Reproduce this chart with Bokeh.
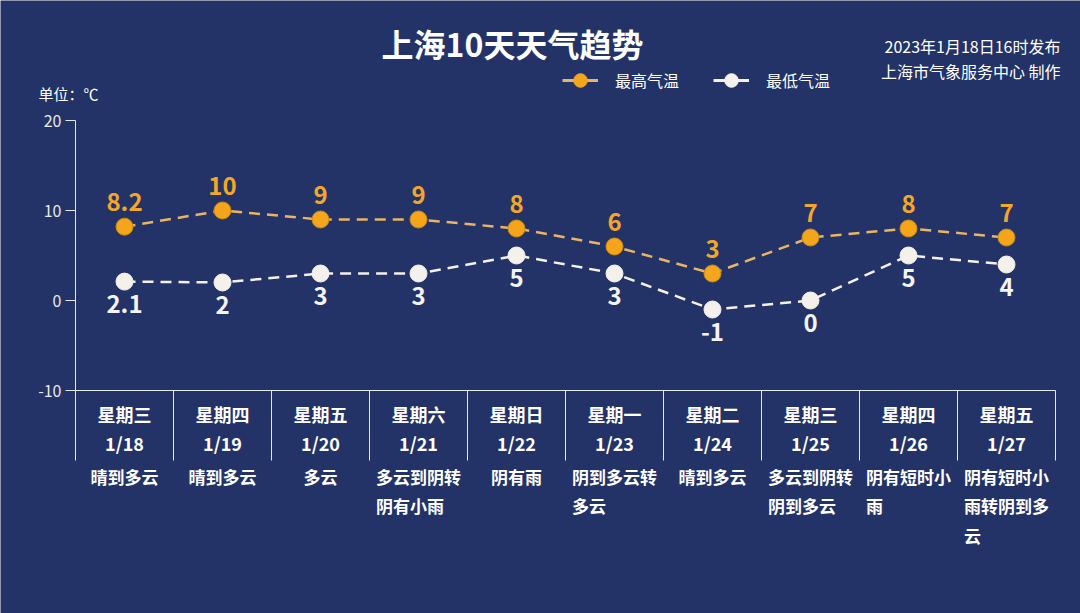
import math
from bokeh.plotting import figure
from bokeh.models import Range1d, FixedTicker, Label, Legend, LegendItem, ColumnDataSource
from bokeh.core.properties import value
from bokeh.embed import file_html
from bokeh.resources import INLINE

# ---- data ----
weekdays = ["星期三", "星期四", "星期五", "星期六", "星期日", "星期一", "星期二", "星期三", "星期四", "星期五"]
dates = ["1/18", "1/19", "1/20", "1/21", "1/22", "1/23", "1/24", "1/25", "1/26", "1/27"]
weather = ["晴到多云", "晴到多云", "多云", "多云到阴转\n阴有小雨", "阴有雨", "阴到多云转\n多云",
           "晴到多云", "多云到阴转\n阴到多云", "阴有短时小\n雨", "阴有短时小\n雨转阴到多\n云"]
high = [8.2, 10, 9, 9, 8, 6, 3, 7, 8, 7]
low = [2.1, 2, 3, 3, 5, 3, -1, 0, 5, 4]
y_ticks = [-10, 0, 10, 20]

title_text = "上海10天天气趋势"
pub_text = "2023年1月18日16时发布"
org_text = "上海市气象服务中心 制作"
unit_text = "单位：℃"
series_names = ["最高气温", "最低气温"]

# ---- style ----
W, H = 1080, 613
BG = "#233367"
FONT = "Noto Sans CJK SC"
ORANGE = "#f5a51c"
ORANGE_LINE = "#e9b463"
WHITE = "#f4f0ec"
LEFT = 75
CELL = 98
PX_PER_UNIT = 9
TOP_PX = 120

n = len(dates)
xs = list(range(n))
ymax = max(y_ticks)
ymin = min(y_ticks)
x_start = -0.5 - LEFT / CELL

p = figure(width=W, height=H, output_backend="svg", toolbar_location=None,
           x_range=Range1d(x_start, x_start + W / CELL),
           y_range=Range1d(ymax - (H - TOP_PX) / PX_PER_UNIT, ymax + TOP_PX / PX_PER_UNIT),
           x_axis_location=None, y_axis_location="left",
           min_border_left=0, min_border_right=0, min_border_top=0, min_border_bottom=0,
           background_fill_color=BG, border_fill_color=BG, outline_line_color=None)
p.grid.visible = False

ax = p.yaxis[0]
ax.fixed_location = -0.5
ax.ticker = FixedTicker(ticks=y_ticks)
ax.bounds = (ymin, ymax)
ax.axis_line_color = "#e8e8e8"
ax.axis_line_width = 1
ax.major_tick_line_color = "#e8e8e8"
ax.major_tick_out = 10
ax.major_tick_in = 0
ax.minor_tick_line_color = None
ax.major_label_text_color = "#e8e8e8"
ax.major_label_text_font = FONT
ax.major_label_text_font_size = "16px"
ax.major_label_standoff = 4
ax.major_label_overrides = {t: str(t) for t in y_ticks}

# bottom axis line and separators
p.segment(x0=[-0.5], y0=[ymin], x1=[n - 0.5], y1=[ymin], line_color="#e8e8e8", line_width=1)
bounds = [i - 0.5 for i in range(n + 1)]
p.ray(x=bounds, y=[ymin] * len(bounds), length=70, angle=-math.pi / 2,
      length_units="screen", line_color="#e8e8e8", line_width=1)

# series
src = ColumnDataSource(dict(
    x=xs, high=high, low=low,
    hl=[f"{v:g}" for v in high], ll=[f"{v:g}" for v in low],
    wd=weekdays, dt=dates, yb=[ymin] * n, wx=weather,
    wxoff=[-max(len(s) for s in w.split("\n")) * 17 / 2 for w in weather],
))

hl = p.line("x", "high", source=src, line_color=ORANGE_LINE, line_width=2.5, line_dash="11 7")
hs = p.scatter("x", "high", source=src, size=17, fill_color=ORANGE, line_color="#c98a10", line_width=1)
ll = p.line("x", "low", source=src, line_color=WHITE, line_width=2.5, line_dash="11 7")
ls = p.scatter("x", "low", source=src, size=17, fill_color=WHITE, line_color=WHITE, line_width=1)

# legend proxies (solid line + dot, NaN data so nothing is drawn in the plot)
nan = float("nan")
proxy = ColumnDataSource(dict(x=[nan], y=[nan]))
lg_h_line = p.line("x", "y", source=proxy, line_color=ORANGE_LINE, line_width=3)
lg_h_dot = p.scatter("x", "y", source=proxy, fill_color=ORANGE, line_color=ORANGE)
lg_l_line = p.line("x", "y", source=proxy, line_color=WHITE, line_width=3)
lg_l_dot = p.scatter("x", "y", source=proxy, fill_color=WHITE, line_color=WHITE)

p.text("x", "high", text="hl", source=src, y_offset=-25, text_align="center", text_baseline="middle",
       text_font=value(FONT), text_font_size="24px", text_font_style="bold", text_color="#f2a72a")
p.text("x", "low", text="ll", source=src, y_offset=22, text_align="center", text_baseline="middle",
       text_font=value(FONT), text_font_size="24px", text_font_style="bold", text_color="#f4f4f4")

# bottom table texts
p.text("x", "yb", text="wd", source=src, y_offset=23, text_align="center", text_baseline="middle",
       text_font=value(FONT), text_font_size="18px", text_font_style="bold", text_color="white")
p.text("x", "yb", text="dt", source=src, y_offset=52, text_align="center", text_baseline="middle",
       text_font=value(FONT), text_font_size="18px", text_font_style="bold", text_color="white")
p.text("x", "yb", text="wx", source=src, y_offset=73, x_offset="wxoff", text_align="left", text_baseline="top",
       text_font=value(FONT), text_font_size="17px", text_font_style="bold", text_color="white",
       text_line_height=1.18)

# legend
legend = Legend(items=[LegendItem(label=series_names[0], renderers=[lg_h_line, lg_h_dot]),
                       LegendItem(label=series_names[1], renderers=[lg_l_line, lg_l_dot])],
                location=(562, 516), orientation="horizontal",
                background_fill_alpha=0, border_line_color=None,
                label_text_color="white", label_text_font=FONT, label_text_font_size="16px",
                glyph_width=36, glyph_height=34, label_height=34, label_standoff=17, spacing=34,
                padding=0, margin=0)
p.add_layout(legend)

# annotations
p.add_layout(Label(x=512, y=H - 42, x_units="screen", y_units="screen", text=title_text,
                   text_align="center", text_baseline="middle", text_font=FONT, text_font_size="32px",
                   text_font_style="bold", text_color="white"))
p.add_layout(Label(x=1060, y=H - 45, x_units="screen", y_units="screen", text=pub_text,
                   text_align="right", text_baseline="middle", text_font=FONT, text_font_size="16px",
                   text_color="white"))
p.add_layout(Label(x=1060, y=H - 70, x_units="screen", y_units="screen", text=org_text,
                   text_align="right", text_baseline="middle", text_font=FONT, text_font_size="16px",
                   text_color="white"))
p.add_layout(Label(x=38, y=H - 93, x_units="screen", y_units="screen", text=unit_text,
                   text_align="left", text_baseline="middle", text_font=FONT, text_font_size="15px",
                   text_color="white"))

open("out.html", "w").write(file_html(p, INLINE))
